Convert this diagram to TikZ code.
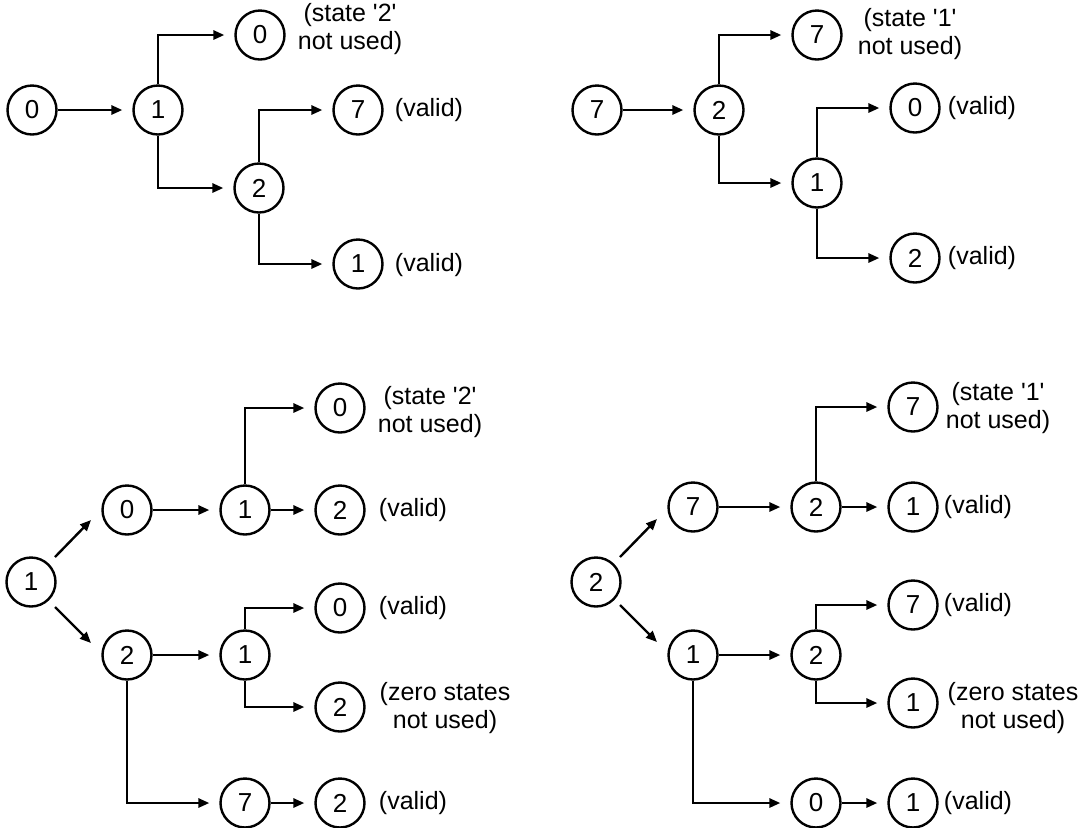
\documentclass[tikz,border=0pt]{standalone}
\usepackage{fontspec}
\setmainfont{Liberation Sans}
\usetikzlibrary{arrows.meta}
\newcommand{\qs}{\textquotesingle}
\begin{document}
\begin{tikzpicture}[x=0.5pt,y=-0.5pt,
  st/.style={circle,draw,line width=1.2pt,minimum size=24.5pt,inner sep=0pt,font=\fontsize{13}{15}\selectfont},
  lab/.style={align=center,font=\fontsize{12.5}{14}\selectfont,inner sep=0pt},
  arr/.style={line width=1.2pt,-{Triangle[length=5.5pt,width=4.6pt]},shorten >=5pt},
  diag/.style={line width=1.2pt,-{Triangle[length=5.5pt,width=4.6pt]}},
]
\useasboundingbox (0,0) rectangle (1087,827);

% ---------- top left ----------
\node[st] (a0) at (32,110) {0};
\node[st] (a1) at (158,110) {1};
\node[st] (a2) at (260,35) {0};
\node[st] (a3) at (259,188) {2};
\node[st] (a4) at (358,110) {7};
\node[st] (a5) at (358,264) {1};
\node[lab] (la2) at (350,29) {(state \qs 2\qs\\not used)};
\node[lab] (la4) at (429,110) {(valid)};
\node[lab] (la5) at (429,265) {(valid)};
\draw[arr] (a0) -- (a1);
\draw[arr] (a1.north) |- (a2);
\draw[arr] (a1.south) |- (a3);
\draw[arr] (a3.north) |- (a4);
\draw[arr] (a3.south) |- (a5);

% ---------- top right ----------
\node[st] (b0) at (597,110) {7};
\node[st] (b1) at (719,110) {2};
\node[st] (b2) at (817,35) {7};
\node[st] (b3) at (817,183) {1};
\node[st] (b4) at (915,108) {0};
\node[st] (b5) at (915,258) {2};
\node[lab] (lb2) at (910,34) {(state \qs 1\qs\\not used)};
\node[lab] (lb4) at (982,108) {(valid)};
\node[lab] (lb5) at (982,258) {(valid)};
\draw[arr] (b0) -- (b1);
\draw[arr] (b1.north) |- (b2);
\draw[arr] (b1.south) |- (b3);
\draw[arr] (b3.north) |- (b4);
\draw[arr] (b3.south) |- (b5);

% ---------- bottom left ----------
\node[st] (c0) at (31,582) {1};
\node[st] (c1) at (127,510) {0};
\node[st] (c2) at (127,655) {2};
\node[st] (c3) at (245,510) {1};
\node[st] (c4) at (340,408) {0};
\node[st] (c5) at (340,510) {2};
\node[st] (c6) at (245,655) {1};
\node[st] (c7) at (340,608) {0};
\node[st] (c8) at (340,707) {2};
\node[st] (c9) at (245,803) {7};
\node[st] (c10) at (340,803) {2};
\node[lab] (lc4) at (430,412) {(state \qs 2\qs\\not used)};
\node[lab] (lc5) at (413,510) {(valid)};
\node[lab] (lc7) at (413,608) {(valid)};
\node[lab] (lc8) at (445,708) {(zero states\\not used)};
\node[lab] (lc10) at (413,803) {(valid)};
\coordinate (cu1) at (55,557);
\coordinate (cu2) at (91,520);
\coordinate (cd1) at (55,607);
\coordinate (cd2) at (91,643);
\draw[diag] (cu1) -- (cu2);
\draw[diag] (cd1) -- (cd2);
\draw[arr] (c1) -- (c3);
\draw[arr] (c3.north) |- (c4);
\draw[arr] (c3) -- (c5);
\draw[arr] (c2) -- (c6);
\draw[arr] (c6.north) |- (c7);
\draw[arr] (c6.south) |- (c8);
\draw[arr] (c2.south) |- (c9);
\draw[arr] (c9) -- (c10);

% ---------- bottom right ----------
\node[st] (d0) at (596,582) {2};
\node[st] (d1) at (693,507) {7};
\node[st] (d2) at (693,655) {1};
\node[st] (d3) at (816,507) {2};
\node[st] (d4) at (913,407) {7};
\node[st] (d5) at (913,507) {1};
\node[st] (d6) at (816,655) {2};
\node[st] (d7) at (913,605) {7};
\node[st] (d8) at (913,703) {1};
\node[st] (d9) at (816,803) {0};
\node[st] (d10) at (913,803) {1};
\node[lab] (ld4) at (998,408) {(state \qs 1\qs\\not used)};
\node[lab] (ld5) at (978,507) {(valid)};
\node[lab] (ld7) at (978,605) {(valid)};
\node[lab] (ld8) at (1013,708) {(zero states\\not used)};
\node[lab] (ld10) at (978,803) {(valid)};
\coordinate (du1) at (620,557);
\coordinate (du2) at (657,519);
\coordinate (dd1) at (620,605);
\coordinate (dd2) at (657,642);
\draw[diag] (du1) -- (du2);
\draw[diag] (dd1) -- (dd2);
\draw[arr] (d1) -- (d3);
\draw[arr] (d3.north) |- (d4);
\draw[arr] (d3) -- (d5);
\draw[arr] (d2) -- (d6);
\draw[arr] (d6.north) |- (d7);
\draw[arr] (d6.south) |- (d8);
\draw[arr] (d2.south) |- (d9);
\draw[arr] (d9) -- (d10);
\end{tikzpicture}
\end{document}
